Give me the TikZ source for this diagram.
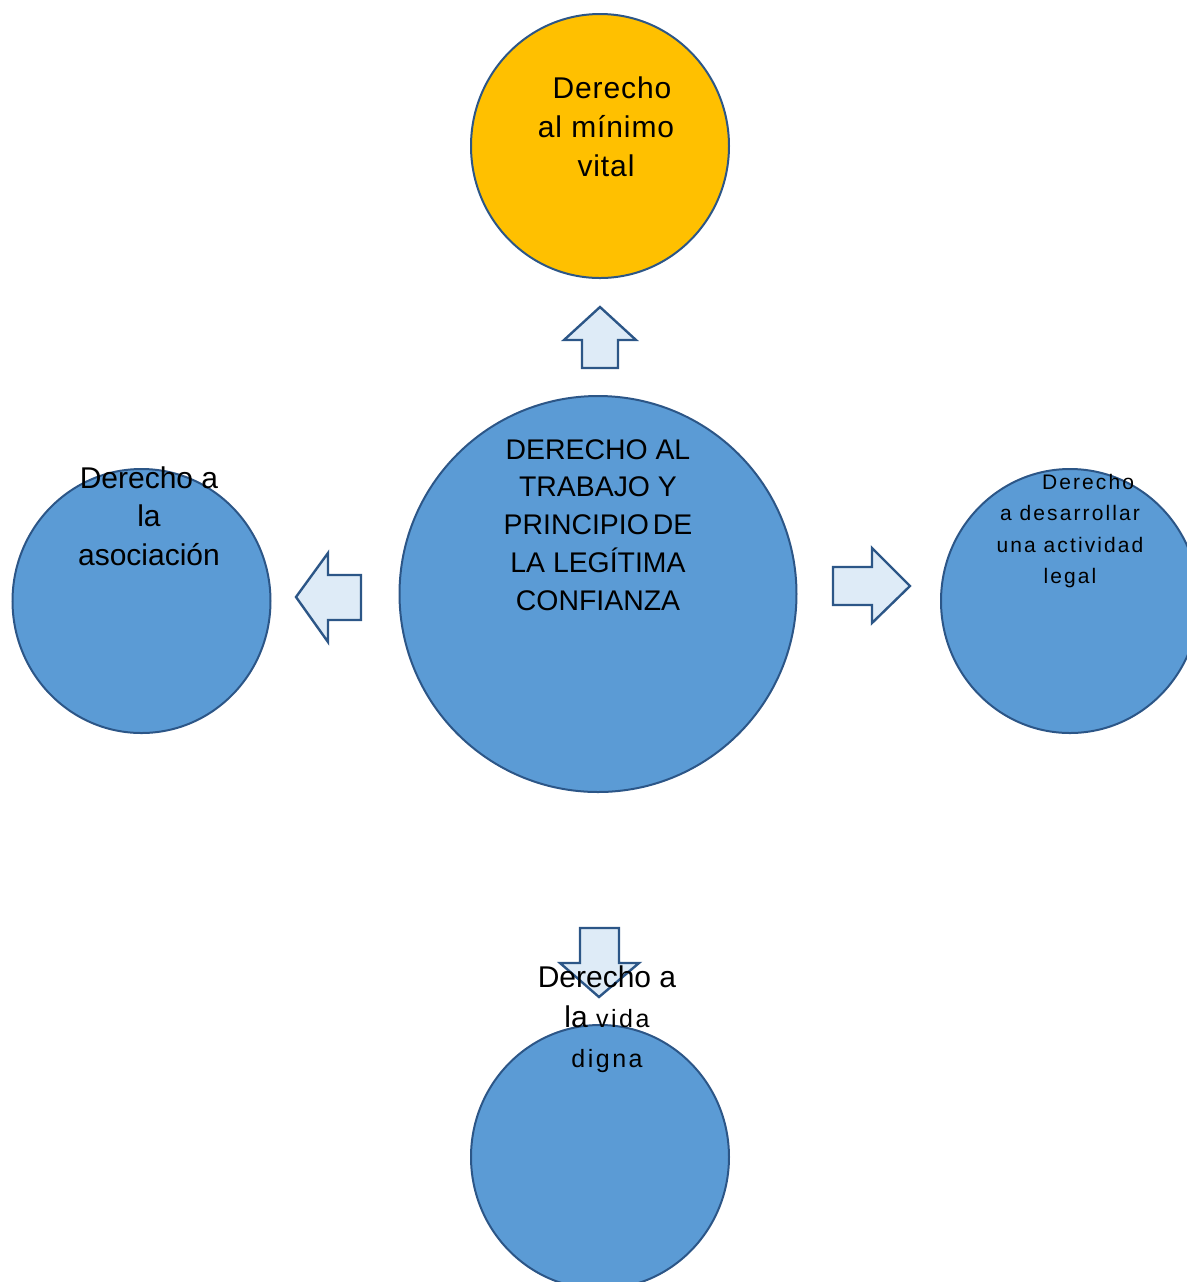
\documentclass[tikz,border=0pt]{standalone}
\usepackage{fontspec}
\setmainfont{Liberation Sans}
\newfontfamily\spacedfont[LetterSpace=10]{Liberation Sans}
\newfontfamily\looserfont[LetterSpace=3]{Liberation Sans}
\usetikzlibrary{shapes.geometric}

\definecolor{bubbleblue}{HTML}{5B9BD5}
\definecolor{bubbleorange}{HTML}{FFC000}
\definecolor{edgeblue}{HTML}{2C5687}
\definecolor{arrowfill}{HTML}{DEEBF7}

\tikzset{
  bubble/.style={ellipse, draw=edgeblue, line width=1pt, fill=bubbleblue,
    minimum width=129pt, minimum height=132pt, inner sep=0pt},
  blockarrow/.style={draw=edgeblue, line width=1.2pt, fill=arrowfill, line join=miter},
  caption/.style={align=center, inner sep=0pt, font=\fontsize{15}{19.5}\selectfont}
}

\begin{document}
\begin{tikzpicture}[x=0.5pt, y=-0.5pt]
\useasboundingbox (0,0) rectangle (1187,1282);

% Block arrows
\draw[blockarrow] (582,368) -- (582,340) -- (564,340) -- (600,307) -- (636,340) -- (618,340) -- (618,368) -- cycle;
\draw[blockarrow] (361,575) -- (328,575) -- (328,553) -- (296,597) -- (328,642) -- (328,620) -- (361,620) -- cycle;
\draw[blockarrow] (833,567) -- (872,567) -- (872,548) -- (910,586) -- (872,623) -- (872,605) -- (833,605) -- cycle;
\draw[blockarrow] (580,928) -- (619,928) -- (619,963) -- (639,963) -- (599,997) -- (560,963) -- (580,963) -- cycle;

% Bubbles
\node[bubble, fill=bubbleorange] (minimo) at (600,146) {};
\node[bubble, minimum width=198.5pt, minimum height=198pt] (trabajo) at (598,594) {};
\node[bubble] (asociacion) at (141.5,601) {};
\node[bubble] (actividad) at (1070,601) {};
\node[bubble] (vida) at (600,1157) {};

% Texts
\node[caption, font=\looserfont\fontsize{15}{19.5}\selectfont] (minimo text) at (606,127)
  {\hspace*{6pt}Derecho\\al mínimo\\vital};
\node[caption, font=\fontsize{14.2}{18.9}\selectfont] (trabajo text) at (598,525)
  {DERECHO AL\\TRABAJO Y\\PRINCIPIO\hspace{-2pt} DE\\LA LEGÍTIMA\\CONFIANZA};
\node[caption, font=\fontsize{15}{19.25}\selectfont] (asociacion text) at (149,516)
  {Derecho a\\la\\asociación};
\node[caption, font=\spacedfont\fontsize{10.5}{15.7}\selectfont] (actividad text) at (1070,531)
  {\hspace*{18pt}Derecho\\a desarrollar\\una actividad\\legal};
\node[caption, font=\fontsize{15}{20}\selectfont] (vida text) at (607,1019)
  {Derecho a\\la {\spacedfont\fontsize{12.5}{20}\selectfont vida}\\{\spacedfont\fontsize{12.5}{20}\selectfont digna}};
\end{tikzpicture}
\end{document}
